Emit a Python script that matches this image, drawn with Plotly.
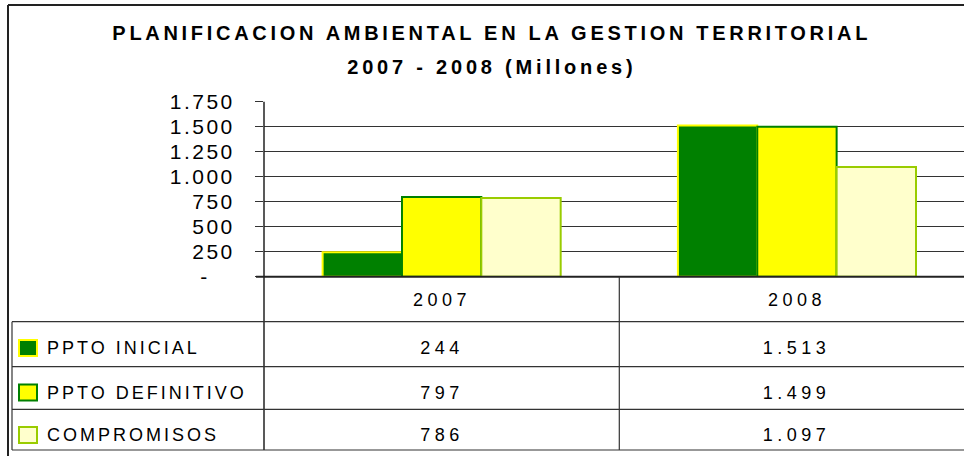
import plotly.graph_objects as go

# ---------------- data ----------------
years = ["2007", "2008"]
series_names = ["PPTO INICIAL", "PPTO DEFINITIVO", "COMPROMISOS"]
ppto_inicial = [244, 1513]
ppto_definitivo = [797, 1499]
compromisos = [786, 1097]
tick_values = [0, 250, 500, 750, 1000, 1250, 1500, 1750]
tick_labels = ["-", "250", "500", "750", "1.000", "1.250", "1.500", "1.750"]
title_line1 = "PLANIFICACION AMBIENTAL EN LA GESTION TERRITORIAL"
title_line2 = "2007 - 2008 (Millones)"

# ---------------- style ----------------
W, H = 964, 456
FONT = "Liberation Sans, Arial, sans-serif"
fills = ["#008000", "#FFFF00", "#FFFFCC"]
edges = ["#FFFF00", "#008000", "#99CC00"]

plot_left, plot_right = 264, W
y_top, y_base = 101.7, 276.7
row_lines = [321.7, 366.7, 409.3, 450]
row_text_y = [348, 392.5, 435]
header_y = 299.5
col_div = 619.3
col_centers = [441.5, 796.5]


def px(x):
    return x / W


def py(y):
    return 1 - y / H


def fmt(v):
    return f"{v:,}".replace(",", ".")


def tick_fmt(t):
    # accounting style: zero shown as a dash, padded on the right
    return t + "\u00a0" * 3 if t == "-" else t


all_series = [ppto_inicial, ppto_definitivo, compromisos]

fig = go.Figure()
for name, vals, fc, ec in zip(series_names, all_series, fills, edges):
    fig.add_trace(go.Bar(
        x=years, y=vals, name=name,
        marker=dict(color=fc, line=dict(color=ec, width=2)),
        showlegend=False, hoverinfo="x+y+name",
    ))

shapes = []
line_col = "#222222"
# outer frame (left & top)
shapes.append(dict(type="line", xref="paper", yref="paper", x0=px(8), x1=px(W), y0=py(5), y1=py(5),
                   line=dict(color=line_col, width=2)))
shapes.append(dict(type="line", xref="paper", yref="paper", x0=px(8), x1=px(8), y0=py(5), y1=py(H),
                   line=dict(color=line_col, width=2)))
# vertical axis line continuing into the table
shapes.append(dict(type="line", xref="paper", yref="paper", x0=px(plot_left), x1=px(plot_left),
                   y0=py(y_top), y1=py(row_lines[-1]), line=dict(color=line_col, width=1.5)))
# baseline
shapes.append(dict(type="line", xref="paper", yref="paper", x0=px(256), x1=px(W), y0=py(y_base), y1=py(y_base),
                   line=dict(color=line_col, width=2)))
# table horizontal lines
for yl in row_lines:
    shapes.append(dict(type="line", xref="paper", yref="paper", x0=px(12), x1=px(W), y0=py(yl), y1=py(yl),
                       line=dict(color="#333333", width=1.2)))
# table verticals
shapes.append(dict(type="line", xref="paper", yref="paper", x0=px(12), x1=px(12),
                   y0=py(row_lines[0]), y1=py(row_lines[-1]), line=dict(color="#333333", width=1.2)))
shapes.append(dict(type="line", xref="paper", yref="paper", x0=px(col_div), x1=px(col_div),
                   y0=py(y_base), y1=py(row_lines[-1]), line=dict(color="#333333", width=1.2)))
# legend keys
for i, (fc, ec) in enumerate(zip(fills, edges)):
    cy = row_text_y[i]
    shapes.append(dict(type="rect", xref="paper", yref="paper", x0=px(19), x1=px(37),
                       y0=py(cy - 8), y1=py(cy + 8), fillcolor=fc, line=dict(color=ec, width=2)))

annotations = []
annotations.append(dict(text=title_line1, x=px(492), y=py(33), xref="paper", yref="paper", showarrow=False,
                        xanchor="center", yanchor="middle",
                        font=dict(family=FONT, size=20, color="#000", weight="bold")))
annotations.append(dict(text=title_line2, x=px(492), y=py(66.5), xref="paper", yref="paper", showarrow=False,
                        xanchor="center", yanchor="middle",
                        font=dict(family=FONT, size=20, color="#000", weight="bold")))
for yr, cx in zip(years, col_centers):
    annotations.append(dict(text=yr, x=px(cx), y=py(header_y), xref="paper", yref="paper", showarrow=False,
                            xanchor="center", yanchor="middle", font=dict(family=FONT, size=18, color="#000")))
for i, (name, vals) in enumerate(zip(series_names, all_series)):
    annotations.append(dict(text=name, x=px(45), y=py(row_text_y[i]), xref="paper", yref="paper",
                            showarrow=False, xanchor="left", yanchor="middle", align="left",
                            font=dict(family=FONT, size=18, color="#000")))
    for v, cx in zip(vals, col_centers):
        annotations.append(dict(text=fmt(v), x=px(cx), y=py(row_text_y[i]), xref="paper", yref="paper",
                                showarrow=False, xanchor="center", yanchor="middle",
                                font=dict(family=FONT, size=18, color="#000")))

span = (plot_right - plot_left) / (col_div - plot_left)
fig.update_layout(
    width=W, height=H, margin=dict(l=0, r=0, t=0, b=0, pad=0, autoexpand=False),
    paper_bgcolor="white", plot_bgcolor="white",
    barmode="group", bargap=0.33, bargroupgap=0,
    shapes=shapes, annotations=annotations,
    xaxis=dict(domain=[px(plot_left), 1], range=[-0.5, -0.5 + span], type="category", automargin=False,
               showticklabels=False, showgrid=False, showline=False, zeroline=False, ticks=""),
    yaxis=dict(domain=[py(y_base), py(y_top)], range=[0, 1750], tickvals=tick_values,
               ticktext=[tick_fmt(t) for t in tick_labels],
               automargin=False,
               showgrid=True, gridcolor="#333333", gridwidth=1, zeroline=False, showline=False,
               ticks="outside", ticklen=8, tickcolor="#333333", ticklabelstandoff=16,
               tickfont=dict(family=FONT, size=21, color="#000")),
    font=dict(family=FONT),
)

post = """
document.body.style.margin = '0';
document.body.style.overflow = 'hidden';
var gd = document.getElementById('{plot_id}');
function applySpacing(){
  gd.querySelectorAll('.annotation-text').forEach(function(t){
    var s = t.textContent;
    var v = '3px';
    if (/^[0-9.]+$/.test(s)) v = '4.5px';
    if (s.indexOf('PLANIF') === 0) v = '3.7px';
    if (s.indexOf('2007 - ') === 0) v = '3.8px';
    t.style.letterSpacing = v;
  });
  gd.querySelectorAll('.ytick text').forEach(function(t){ t.style.letterSpacing = '2.5px'; });
}
applySpacing();
gd.on('plotly_afterplot', applySpacing);
"""
fig.write_html("out.html", post_script=post, config={"responsive": False, "displayModeBar": False})
